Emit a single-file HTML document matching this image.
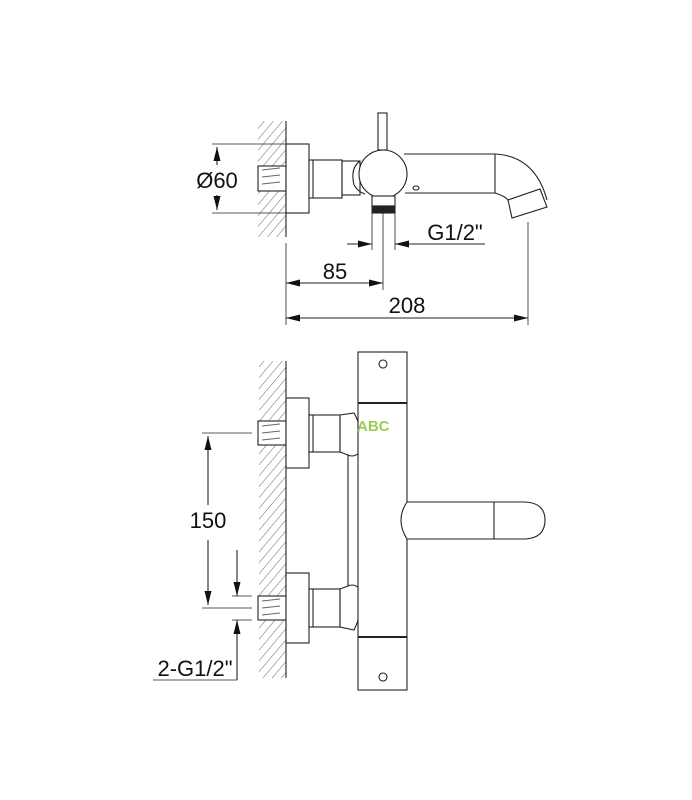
<!DOCTYPE html>
<html><head><meta charset="utf-8"><style>
html,body{margin:0;padding:0;background:#fff;}
svg{display:block;}
text{font-family:"Liberation Sans",sans-serif;fill:#111;}
</style></head><body>
<svg width="692" height="800" viewBox="0 0 692 800" xmlns="http://www.w3.org/2000/svg">
<defs>
<pattern id="h" width="7" height="7" patternUnits="userSpaceOnUse" patternTransform="rotate(40)">
<line x1="0" y1="0" x2="0" y2="7" stroke="#666" stroke-width="1"/>
</pattern>
<marker id="a" viewBox="0 0 14 7" refX="14" refY="3.5" markerWidth="14" markerHeight="7" orient="auto-start-reverse" markerUnits="userSpaceOnUse">
<path d="M0,0 L14,3.5 L0,7 z" fill="#111"/>
</marker>
</defs>
<g fill="none" stroke="#222" stroke-width="1.1">
<!-- TOP VIEW -->
<rect x="258" y="121" width="28" height="116" fill="url(#h)" stroke="none"/>
<line x1="286" y1="121" x2="286" y2="237"/>
<rect x="258" y="166" width="28" height="25" fill="#fff"/>
<path d="M262,170 l18,-2 M262,177 l18,-2 M262,184 l18,-2" stroke="#666"/>
<rect x="286" y="144" width="23" height="69" fill="#fff"/>
<rect x="309" y="160" width="33" height="38" fill="#fff"/>
<line x1="313" y1="160" x2="313" y2="198"/>
<rect x="342" y="161" width="18" height="34"/>
<path d="M360,161 Q350,168 354,185 Q358,192 365,194"/>
<circle cx="383" cy="174" r="24" fill="#fff"/>
<rect x="378" y="113" width="9" height="37" fill="#fff"/>
<path d="M404,154 L495,154 Q535,156 547,200 M405,193 L495,193 Q505,196 508,200"/>
<line x1="495" y1="154" x2="495" y2="193"/>
<path d="M508,200 L540,189 L547,207 L512,218 z" fill="#fff"/>
<ellipse cx="416" cy="188" rx="3" ry="2"/>
<rect x="372" y="196" width="23" height="10" fill="#fff"/>
<rect x="372" y="206" width="23" height="7" fill="#222"/>
<!-- dims top -->
<line x1="212" y1="144" x2="309" y2="144" stroke-width="0.8"/>
<line x1="212" y1="213" x2="309" y2="213" stroke-width="0.8"/>
<line x1="217" y1="147" x2="217" y2="165" marker-start="url(#a)"/>
<line x1="217" y1="195" x2="217" y2="210" marker-end="url(#a)"/>
<line x1="372" y1="213" x2="372" y2="250" stroke-width="0.8"/>
<line x1="395" y1="213" x2="395" y2="250" stroke-width="0.8"/>
<line x1="383" y1="213" x2="383" y2="290" stroke-width="0.8"/>
<line x1="347" y1="244" x2="372" y2="244" marker-end="url(#a)"/>
<line x1="485" y1="244" x2="395" y2="244" marker-end="url(#a)"/>
<line x1="286" y1="243" x2="286" y2="325" stroke-width="0.8"/>
<line x1="528" y1="222" x2="528" y2="325" stroke-width="0.8"/>
<line x1="286" y1="283" x2="383" y2="283" marker-start="url(#a)" marker-end="url(#a)"/>
<line x1="286" y1="318" x2="528" y2="318" marker-start="url(#a)" marker-end="url(#a)"/>
<!-- FRONT VIEW -->
<rect x="259" y="361" width="27" height="317" fill="url(#h)" stroke="none"/>
<line x1="286" y1="361" x2="286" y2="678"/>
<rect x="258" y="421" width="28" height="24" fill="#fff"/>
<path d="M262,426 l18,-2 M262,433 l18,-2 M262,440 l18,-2" stroke="#666"/>
<rect x="258" y="596" width="28" height="24" fill="#fff"/>
<path d="M262,601 l18,-2 M262,608 l18,-2 M262,615 l18,-2" stroke="#666"/>
<rect x="286" y="398" width="23" height="70" fill="#fff"/>
<rect x="286" y="573" width="23" height="70" fill="#fff"/>
<rect x="309" y="415" width="31" height="37" fill="#fff"/>
<line x1="313" y1="415" x2="313" y2="452"/>
<rect x="309" y="589" width="31" height="38" fill="#fff"/>
<line x1="313" y1="589" x2="313" y2="627"/>
<path d="M340,415 L354,413 Q364,430 360,452 Q354,458 348,455 L340,452 z"/>
<path d="M340,589 L348,586 Q354,583 360,589 Q364,610 354,630 L340,627 z"/>
<line x1="348" y1="455" x2="348" y2="586"/>
<line x1="360" y1="455" x2="360" y2="589"/>
<rect x="358" y="352" width="49" height="338" fill="#fff"/>
<line x1="358" y1="403" x2="407" y2="403" stroke-width="2"/>
<line x1="358" y1="637" x2="407" y2="637" stroke-width="2"/>
<circle cx="383" cy="364" r="4"/>
<circle cx="383" cy="677" r="4"/>
<path d="M407,502 L525,502 Q545,503 545,520 Q545,538 525,539 L407,539 Q395,520 407,502" fill="#fff"/>
<line x1="494" y1="502" x2="494" y2="539"/>
<!-- dims front -->
<line x1="202" y1="433" x2="252" y2="433" stroke-width="0.8"/>
<line x1="202" y1="608" x2="252" y2="608" stroke-width="0.8"/>
<line x1="208" y1="436" x2="208" y2="505" marker-start="url(#a)"/>
<line x1="208" y1="540" x2="208" y2="605" marker-end="url(#a)"/>
<line x1="232" y1="596" x2="252" y2="596" stroke-width="0.8"/>
<line x1="232" y1="620" x2="252" y2="620" stroke-width="0.8"/>
<line x1="237" y1="550" x2="237" y2="596" marker-end="url(#a)"/>
<line x1="237" y1="680" x2="237" y2="620" marker-end="url(#a)"/>
<line x1="153" y1="680" x2="237" y2="680" stroke-width="0.8"/>
</g>
<text x="217" y="188" font-size="22" text-anchor="middle">Ø60</text>
<text x="455" y="240" font-size="22" text-anchor="middle">G1/2"</text>
<text x="335" y="279" font-size="22" text-anchor="middle">85</text>
<text x="407" y="313" font-size="22" text-anchor="middle">208</text>
<text x="208" y="528" font-size="22" text-anchor="middle">150</text>
<text x="195" y="676" font-size="22" text-anchor="middle">2-G1/2"</text>
<text x="357" y="431" font-size="15" font-weight="bold" style="fill:#9ccc55">ABC</text>
</svg>
</body></html>
